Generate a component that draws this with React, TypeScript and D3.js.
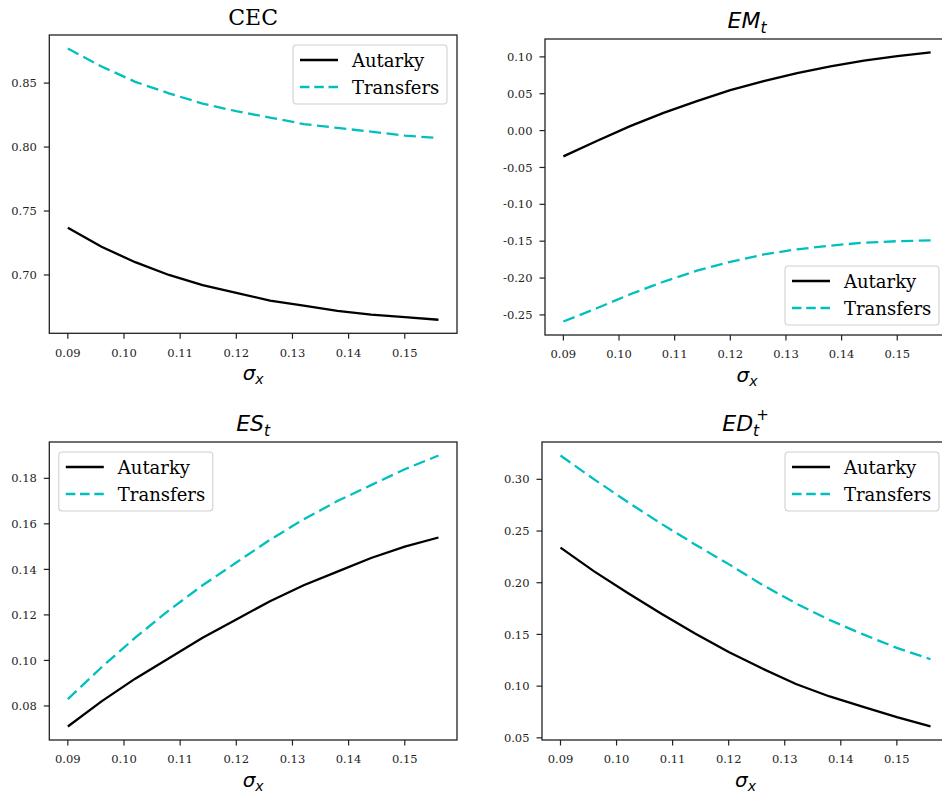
import React from "react";
import * as d3 from "d3";

const sigma = [0.09, 0.096, 0.102, 0.108, 0.114, 0.12, 0.126, 0.132, 0.138, 0.144, 0.15, 0.156];

const cecAutarky = [0.737, 0.722, 0.71, 0.7, 0.692, 0.686, 0.68, 0.676, 0.672, 0.669, 0.667, 0.665];
const cecTransfers = [0.877, 0.863, 0.851, 0.842, 0.834, 0.828, 0.823, 0.818, 0.815, 0.812, 0.809, 0.807];

const emAutarky = [-0.035, -0.014, 0.006, 0.024, 0.04, 0.055, 0.067, 0.078, 0.087, 0.095, 0.101, 0.106];
const emTransfers = [-0.259, -0.241, -0.222, -0.205, -0.19, -0.178, -0.168, -0.161, -0.156, -0.152, -0.15, -0.149];

const esAutarky = [0.071, 0.082, 0.092, 0.101, 0.11, 0.118, 0.126, 0.133, 0.139, 0.145, 0.15, 0.154];
const esTransfers = [0.083, 0.097, 0.11, 0.122, 0.133, 0.143, 0.153, 0.162, 0.17, 0.177, 0.184, 0.19];

const edAutarky = [0.234, 0.211, 0.19, 0.17, 0.151, 0.133, 0.117, 0.102, 0.09, 0.08, 0.07, 0.061];
const edTransfers = [0.323, 0.3, 0.278, 0.257, 0.237, 0.218, 0.198, 0.18, 0.164, 0.15, 0.137, 0.126];

const xTicks = [0.09, 0.1, 0.11, 0.12, 0.13, 0.14, 0.15];
const cecTicks = [0.7, 0.75, 0.8, 0.85];
const emTicks = [-0.25, -0.2, -0.15, -0.1, -0.05, 0.0, 0.05, 0.1];
const esTicks = [0.08, 0.1, 0.12, 0.14, 0.16, 0.18];
const edTicks = [0.05, 0.1, 0.15, 0.2, 0.25, 0.3];

const seriesNames = ["Autarky", "Transfers"];

const SERIF = "'DejaVu Serif', 'Liberation Serif', serif";
const SANS = "'DejaVu Sans', 'Liberation Sans', sans-serif";
const CYAN = "#00bfbf";

type Panel = {
  title: { main: string; sub?: string; sup?: string; math: boolean };
  a: number[];
  t: number[];
  yTicks: number[];
  box: { l: number; r: number; t: number; b: number };
  legend: "ur" | "lr" | "ul";
};

const fmt2 = (v: number) => d3.format(".2f")(v).replace("−", "-");

const panels: Panel[] = [
  {
    title: { main: "CEC", math: false },
    a: cecAutarky,
    t: cecTransfers,
    yTicks: cecTicks,
    box: { l: 49.3, r: 457, t: 35, b: 333.3 },
    legend: "ur",
  },
  {
    title: { main: "EM", sub: "t", math: true },
    a: emAutarky,
    t: emTransfers,
    yTicks: emTicks,
    box: { l: 545, r: 949, t: 39, b: 335 },
    legend: "lr",
  },
  {
    title: { main: "ES", sub: "t", math: true },
    a: esAutarky,
    t: esTransfers,
    yTicks: esTicks,
    box: { l: 49.3, r: 457, t: 442, b: 740 },
    legend: "ul",
  },
  {
    title: { main: "ED", sub: "t", sup: "+", math: true },
    a: edAutarky,
    t: edTransfers,
    yTicks: edTicks,
    box: { l: 542, r: 949, t: 442, b: 740 },
    legend: "ur",
  },
];

function padDomain(vals: number[]): [number, number] {
  const lo = d3.min(vals) as number;
  const hi = d3.max(vals) as number;
  const m = (hi - lo) * 0.05;
  return [lo - m, hi + m];
}

function PanelView({ p }: { p: Panel }) {
  const { box } = p;
  const x = d3.scaleLinear().domain(padDomain(sigma)).range([box.l, box.r]);
  const y = d3.scaleLinear().domain(padDomain([...p.a, ...p.t])).range([box.b, box.t]);
  const line = d3
    .line<number>()
    .x((_, i) => x(sigma[i]))
    .y((d) => y(d));
  const cx = (box.l + box.r) / 2;
  const lw = 154;
  const lh = 59;
  let lx = box.r - 10 - lw;
  let ly = box.t + 10;
  if (p.legend === "lr") ly = box.b - 10 - lh;
  if (p.legend === "ul") lx = box.l + 9.5;
  const tickLen = 5.5;
  return (
    <g>
      <path d={line(p.a) || ""} fill="none" stroke="#000" strokeWidth={2.3} />
      <path d={line(p.t) || ""} fill="none" stroke={CYAN} strokeWidth={2.3} strokeDasharray="12 5.5" />
      <rect x={box.l} y={box.t} width={box.r - box.l} height={box.b - box.t} fill="none" stroke="#222" strokeWidth={1.3} />
      {xTicks.map((v) => (
        <g key={"x" + v}>
          <line x1={x(v)} x2={x(v)} y1={box.b} y2={box.b + tickLen} stroke="#222" strokeWidth={1.2} />
          <text x={x(v)} y={box.b + 23.3} textAnchor="middle" fontFamily={SERIF} fontSize={11.5} fill="#222">
            {d3.format(".2f")(v)}
          </text>
        </g>
      ))}
      {p.yTicks.map((v) => (
        <g key={"y" + v}>
          <line x1={box.l - tickLen} x2={box.l} y1={y(v)} y2={y(v)} stroke="#222" strokeWidth={1.2} />
          <text x={box.l - 12.5} y={y(v)} dy="0.36em" textAnchor="end" fontFamily={SERIF} fontSize={11.5} fill="#222">
            {fmt2(v)}
          </text>
        </g>
      ))}
      {p.title.math ? (
        <text x={cx} y={box.t - 11} textAnchor="middle" fontFamily={SANS} fontStyle="italic" fontSize={22} fill="#000">
          {p.title.main}
          <tspan dy={5} fontSize={15.5}>{p.title.sub}</tspan>
          {p.title.sup ? (
            <tspan dx={-3} dy={-16} fontSize={15} fontStyle="normal">
              {p.title.sup}
            </tspan>
          ) : null}
        </text>
      ) : (
        <text x={cx} y={box.t - 10} textAnchor="middle" fontFamily={SERIF} fontSize={22} fill="#000">
          {p.title.main}
        </text>
      )}
      <text x={cx} y={box.b + 46.5} textAnchor="middle" fontFamily={SANS} fontStyle="italic" fontSize={20} fill="#000">
        σ<tspan dy={4.5} fontSize={14}>x</tspan>
      </text>
      <g>
        <rect x={lx} y={ly} width={lw} height={lh} rx={3.5} ry={3.5} fill="#fff" fillOpacity={0.8} stroke="#d0d0d0" strokeWidth={1.1} />
        <line x1={lx + 7} x2={lx + 45} y1={ly + 15} y2={ly + 15} stroke="#000" strokeWidth={2.3} />
        <line x1={lx + 7} x2={lx + 45} y1={ly + 42} y2={ly + 42} stroke={CYAN} strokeWidth={2.3} strokeDasharray="9.5 4.75" />
        <text x={lx + 59} y={ly + 21.5} fontFamily={SERIF} fontSize={18} fill="#000">
          {seriesNames[0]}
        </text>
        <text x={lx + 59} y={ly + 48.7} fontFamily={SERIF} fontSize={18} fill="#000">
          {seriesNames[1]}
        </text>
      </g>
    </g>
  );
}

export default function App() {
  return (
    <svg
      width={942}
      height={793}
      viewBox="0 0 942 793"
      style={{ position: "absolute", left: 0, top: 0, background: "#fff" }}
    >
      <rect x={0} y={0} width={942} height={793} fill="#fff" />
      {panels.map((p, i) => (
        <PanelView key={i} p={p} />
      ))}
    </svg>
  );
}
